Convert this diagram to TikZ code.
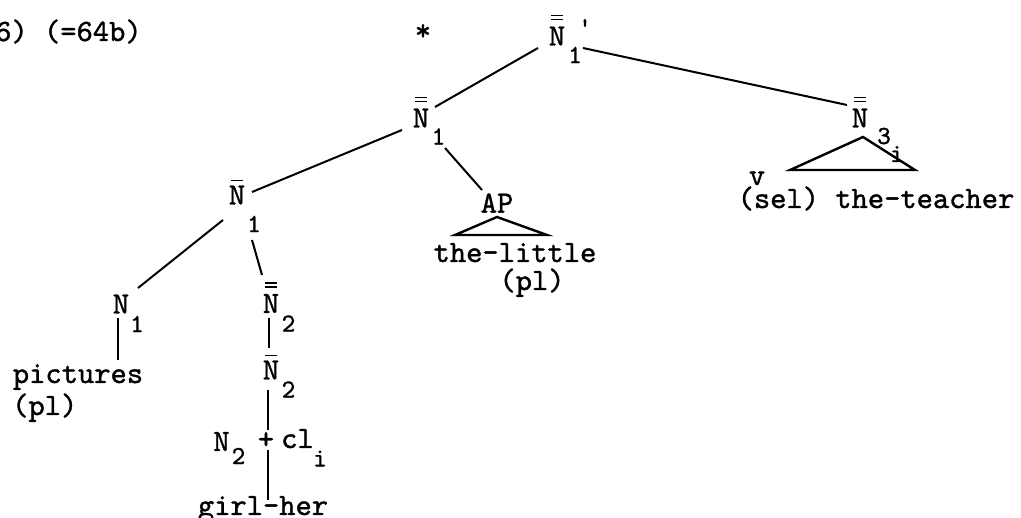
\documentclass[tikz,border=0pt]{standalone}
\usepackage{fontspec}
\newfontfamily\tyw{lmmono10-regular.otf}[FakeBold=1.2]
\newcommand\barone[1]{\draw[bar] ([shift={(-6,-5)}]#1.north) -- ([shift={(6,-5)}]#1.north);}
\newcommand\bartwo[1]{\draw[bar] ([shift={(-6,-11)}]#1.north) -- ([shift={(6,-11)}]#1.north) ([shift={(-6,-7)}]#1.north) -- ([shift={(6,-7)}]#1.north);}
\begin{document}
\begin{tikzpicture}[x=1pt,y=-1pt,
  cat/.style={font=\tyw\fontsize{31}{34}\selectfont, inner sep=0pt},
  sub/.style={font=\tyw\fontsize{26}{28}\selectfont, inner sep=0pt},
  txt/.style={font=\tyw\fontsize{31}{34}\selectfont, inner sep=0pt, anchor=base},
  edge/.style={line width=2pt},
  bar/.style={line width=1.6pt},
  tri/.style={line width=2.4pt, line join=miter}]
\useasboundingbox (0,0) rectangle (1021,518);
% label and star
\node[txt, anchor=base west] (label) at (-5,41) {6) (=64b)};
\node[cat, anchor=north] (star) at (423,24) {*};
% top node
\node[cat] (top) at (557,36) {N}; \bartwo{top}
\node[sub] (tops) at (575,55) {1};
\node[sub, anchor=north] (topp) at (585,19) {'};
% middle
\node[cat] (mid) at (421,118) {N}; \bartwo{mid}
\node[sub] (mids) at (438.5,136.5) {1};
% right
\node[cat] (n3) at (860,118) {N}; \bartwo{n3}
\node[sub] (n3s) at (884,136) {3};
\node[sub] (n3i) at (897,154) {i};
\node[txt] (teacher) at (876,208) {(sel) the-teacher};
\node[txt] (hacek) at (757,185) {v};
% AP
\node[cat] (ap) at (497,203) {AP};
\node[txt] (little) at (515,262) {the-little};
\node[txt] (pl2) at (532,290) {(pl)};
% N-bar 1
\node[cat] (nb1) at (237,195) {N}; \barone{nb1}
\node[sub] (nb1s) at (254,224) {1};
% N1
\node[cat] (n1) at (121,304) {N};
\node[sub] (n1s) at (137,324) {1};
\node[txt] (pic) at (78,383) {pictures};
\node[txt, anchor=base west] (pl1) at (12,415) {(pl)};
% N double bar 2
\node[cat] (nbb2) at (271,303.5) {N}; \bartwo{nbb2}
\node[sub] (nbb2s) at (288.5,323.5) {2};
% N bar 2
\node[cat] (nb2) at (271,370) {N}; \barone{nb2}
\node[sub] (nb2s) at (288.5,389.5) {2};
% N2 + cl_i
\node[cat] (n2) at (221.5,441.5) {N};
\node[sub] (n2s) at (238.5,456) {2};
\node[cat, anchor=north] (plus) at (266,432) {+};
\node[txt] (cl) at (297.5,448) {cl};
\node[sub] (cli) at (320,458.5) {i};
\node[txt] (girl) at (263,515) {girl-her};
% connectors
\draw[edge] ([shift={(-19,12)}]top.center) -- ([shift={(14,-11)}]mid.center);
\draw[edge] ([shift={(26,12)}]top.center) -- ([shift={(-13,-13)}]n3.center);
\draw[edge] ([shift={(15,-3)}]nb1.center) -- ([shift={(-19,12)}]mid.center);
\draw[edge] ([shift={(24,30)}]mid.center) -- ([shift={(-15,-13)}]ap.center);
\draw[edge] ([shift={(-14,25)}]nb1.center) -- ([shift={(17,-16)}]n1.center);
\draw[edge] ([shift={(15,45)}]nb1.center) -- ([shift={(-9,-28.5)}]nbb2.center);
\draw[edge] ([shift={(-3,14)}]n1.center) -- ([shift={(40,-23)}]pic.base);
\draw[edge] ([shift={(-2,15)}]nbb2.center) -- ([shift={(-2,-22)}]nb2.center);
\draw[edge] ([shift={(-3,20)}]nb2.center) -- ([shift={(2,-2)}]plus.north);
\draw[edge] ([shift={(2,18)}]plus.north) -- ([shift={(5,-15)}]girl.base);
% triangles
\draw[tri] ([shift={(-42,32)}]ap.center) -- ([shift={(0,14)}]ap.center) -- ([shift={(50,32)}]ap.center) -- cycle;
\draw[tri] ([shift={(-70,52)}]n3.center) -- ([shift={(3,19)}]n3.center) -- ([shift={(55,52)}]n3.center) -- cycle;
\end{tikzpicture}
\end{document}
